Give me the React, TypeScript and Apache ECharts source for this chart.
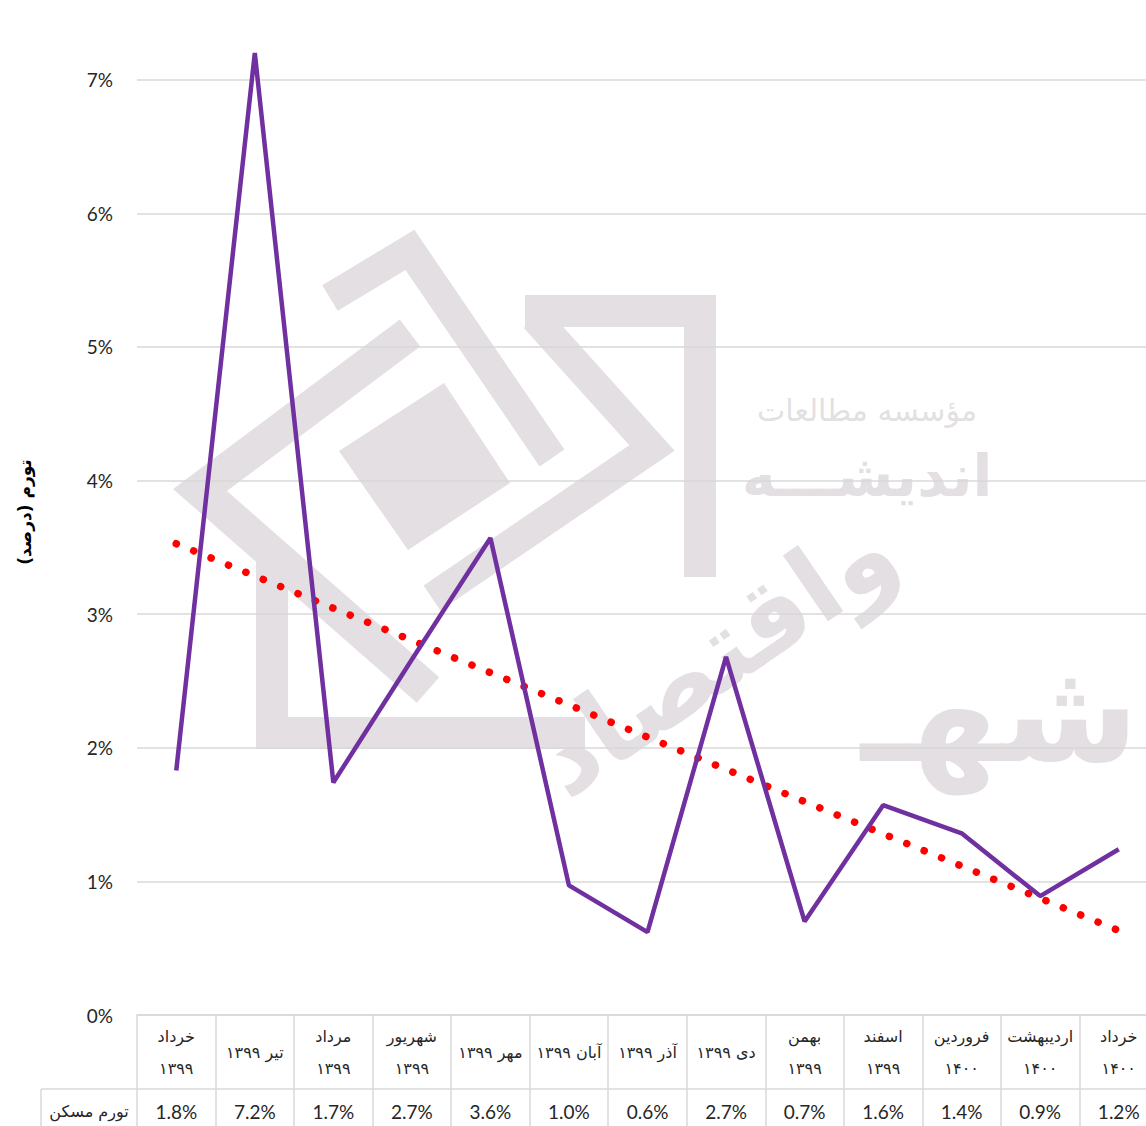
import React, { useEffect, useRef } from "react";
import * as echarts from "echarts";

// ---- data ----
const categories: string[] = [
  "خرداد\n۱۳۹۹",
  "تیر ۱۳۹۹",
  "مرداد\n۱۳۹۹",
  "شهریور\n۱۳۹۹",
  "مهر ۱۳۹۹",
  "آبان ۱۳۹۹",
  "آذر ۱۳۹۹",
  "دی ۱۳۹۹",
  "بهمن\n۱۳۹۹",
  "اسفند\n۱۳۹۹",
  "فروردین\n۱۴۰۰",
  "اردیبهشت\n۱۴۰۰",
  "خرداد\n۱۴۰۰",
];
const housingInflation: number[] = [1.83, 7.2, 1.74, 2.66, 3.57, 0.97, 0.62, 2.68, 0.7, 1.57, 1.36, 0.89, 1.24];
const tableLabels: string[] = ["1.8%", "7.2%", "1.7%", "2.7%", "3.6%", "1.0%", "0.6%", "2.7%", "0.7%", "1.6%", "1.4%", "0.9%", "1.2%"];
const seriesName = "تورم مسکن";
const yAxisTitle = "تورم (درصد)\u200F";
const yMin = 0;
const yMax = 8;
const yInterval = 1;

// linear trend (least squares) of the series, as the original trendline
function linearTrend(v: number[]): number[] {
  const n = v.length;
  const mx = (n - 1) / 2;
  const my = v.reduce((a, b) => a + b, 0) / n;
  let sxy = 0;
  let sxx = 0;
  v.forEach((y, i) => {
    sxy += (i - mx) * (y - my);
    sxx += (i - mx) * (i - mx);
  });
  const slope = sxy / sxx;
  return v.map((_, i) => my + slope * (i - mx));
}

const GRAY = "#d9d9d9";
const WM = "#e3dfe2";
const PERSIAN_FONT = "DejaVu Sans";
const LATIN_FONT = "Lato";
// the chart canvas starts above the visible page (the top of the y range is cropped off)
const OFF = 54;
const W = 1146;
const H = 1126 + OFF;

function watermark(): any[] {
  const lines: { pts: number[][]; w: number }[] = [
    { pts: [[330, 298], [410, 250], [552, 458]], w: 30 },
    { pts: [[525, 311], [700, 311], [700, 577]], w: 32 },
    { pts: [[535, 318], [652, 448], [432, 598]], w: 30 },
    { pts: [[410, 333], [200, 490], [428, 690]], w: 34 },
    { pts: [[272, 555], [272, 733], [585, 733]], w: 32 },
  ];
  const els: any[] = lines.map((l) => ({
    type: "polyline",
    z: -10,
    silent: true,
    shape: { points: l.pts.map((p) => [p[0], p[1] + OFF]) },
    style: { stroke: WM, lineWidth: l.w, fill: null, lineJoin: "miter" },
  }));
  els.push({
    type: "polygon",
    z: -10,
    silent: true,
    shape: { points: [[339, 451], [444, 383], [510, 483], [408, 550]].map((p) => [p[0], p[1] + OFF]) },
    style: { fill: WM },
  });
  els.push({
    type: "text", z: -10, silent: true, x: 867, y: 410 + OFF,
    style: { text: "مؤسسه مطالعات", fill: WM, font: `30px "${PERSIAN_FONT}"`, align: "center", verticalAlign: "middle" },
  });
  els.push({
    type: "text", z: -10, silent: true, x: 867, y: 476 + OFF,
    style: { text: "اندیشـــه", fill: WM, font: `bold 58px "${PERSIAN_FONT}"`, align: "center", verticalAlign: "middle" },
  });
  els.push({
    type: "text", z: -10, silent: true, x: 715, y: 655 + OFF, rotation: 0.6,
    style: { text: "واقتصاد", fill: WM, font: `bold 105px "${PERSIAN_FONT}"`, align: "center", verticalAlign: "middle" },
  });
  els.push({
    type: "text", z: -10, silent: true, x: 1000, y: 712 + OFF,
    style: { text: "شهـ", fill: WM, font: `bold 140px "${PERSIAN_FONT}"`, align: "center", verticalAlign: "middle" },
  });
  return els;
}

export default function App() {
  const ref = useRef<HTMLDivElement>(null);
  useEffect(() => {
    if (!ref.current) return;
    const chart = echarts.init(ref.current, undefined, { renderer: "svg" });
    const trend = linearTrend(housingInflation);
    const option: any = {
      animation: false,
      backgroundColor: "#ffffff",
      grid: {
        left: 137,
        right: -12,
        top: 0,
        bottom: 111,
        containLabel: false,
        outerBoundsMode: "none",
      },
      xAxis: [
        {
          type: "category",
          data: categories,
          boundaryGap: true,
          position: "bottom",
          axisLine: { show: true, lineStyle: { color: GRAY, width: 1.5 } },
          axisTick: { show: true, length: 120, interval: 0, lineStyle: { color: GRAY, width: 1.5 } },
          axisLabel: {
            interval: 0,
            margin: 37,
            verticalAlign: "middle",
            lineHeight: 32,
            fontSize: 16,
            color: "#262626",
            fontFamily: PERSIAN_FONT,
          },
          splitLine: { show: false },
        },
        {
          type: "category",
          data: categories,
          boundaryGap: true,
          position: "bottom",
          offset: 74,
          axisLine: { show: true, lineStyle: { color: GRAY, width: 1.5 } },
          axisTick: { show: false },
          axisLabel: {
            interval: 0,
            margin: 22,
            verticalAlign: "middle",
            fontSize: 19,
            color: "#262626",
            fontFamily: LATIN_FONT,
            formatter: (_v: string, i: number) => tableLabels[i],
          },
          splitLine: { show: false },
        },
      ],
      yAxis: {
        type: "value",
        min: yMin,
        max: yMax,
        interval: yInterval,
        axisLine: { show: false },
        axisTick: { show: false },
        axisLabel: {
          margin: 24,
          fontSize: 19,
          color: "#262626",
          fontFamily: LATIN_FONT,
          formatter: (v: number) => (v >= yMax ? "" : `${v}%`),
        },
        splitLine: { show: true, lineStyle: { color: GRAY, width: 1.5 } },
      },
      series: [
        {
          name: "trend",
          type: "line",
          data: trend,
          symbol: "none",
          z: 2,
          lineStyle: { color: "#ff0000", width: 7.5, type: [0.1, 18.7], cap: "round" },
        },
        {
          name: seriesName,
          type: "line",
          data: housingInflation,
          symbol: "none",
          z: 3,
          lineStyle: { color: "#7030a0", width: 4.5 },
        },
      ],
      graphic: [
        ...watermark(),
        {
          type: "line",
          silent: true,
          shape: { x1: 41, y1: 1089 + OFF, x2: 137, y2: 1089 + OFF },
          style: { stroke: GRAY, lineWidth: 1.5 },
        },
        {
          type: "line",
          silent: true,
          shape: { x1: 41, y1: 1089 + OFF, x2: 41, y2: 1130 + OFF },
          style: { stroke: GRAY, lineWidth: 1.5 },
        },
        {
          type: "text",
          silent: true,
          x: 89,
          y: 1111 + OFF,
          style: {
            text: seriesName,
            fill: "#262626",
            font: `16px "${PERSIAN_FONT}"`,
            align: "center",
            verticalAlign: "middle",
          },
        },
        {
          type: "text",
          silent: true,
          x: 25,
          y: 512 + OFF,
          rotation: Math.PI / 2,
          style: {
            text: yAxisTitle,
            fill: "#000000",
            font: `bold 17px "${PERSIAN_FONT}"`,
            align: "center",
            verticalAlign: "middle",
          },
        },
      ],
    };
    chart.setOption(option);
    return () => chart.dispose();
  }, []);
  return (
    <div
      ref={ref}
      style={{ position: "absolute", left: 0, top: -OFF, width: W, height: H }}
    />
  );
}
